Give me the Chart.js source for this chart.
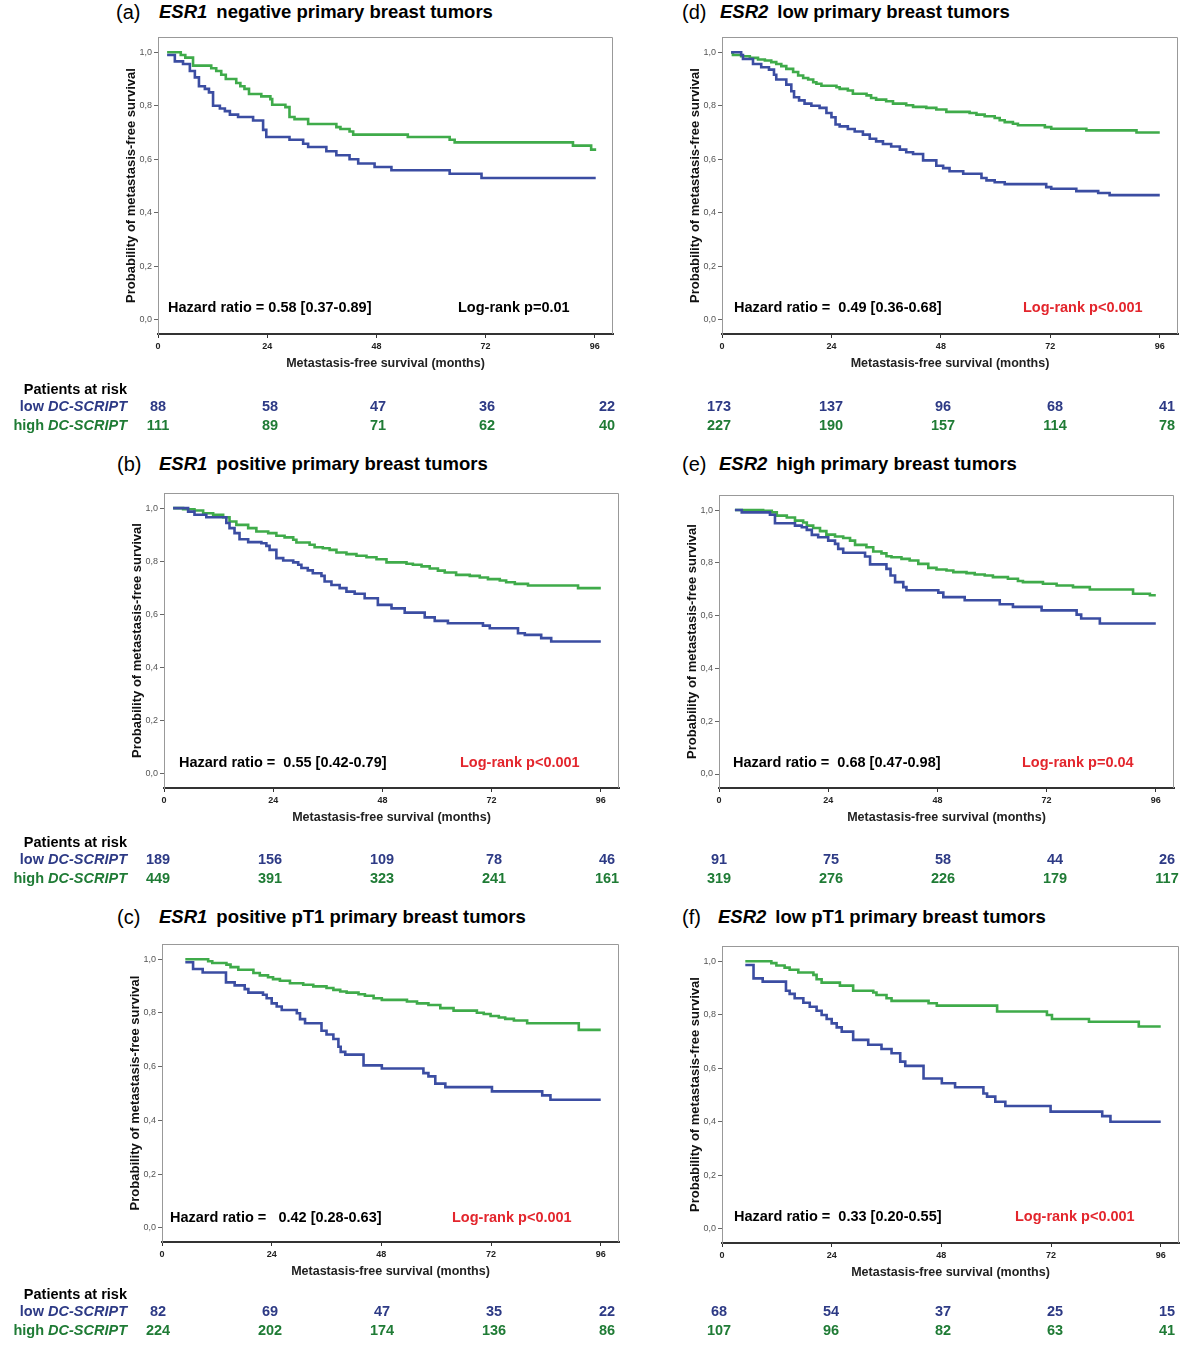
<!DOCTYPE html>
<html>
<head>
<script src="https://cdn.jsdelivr.net/npm/chart.js"></script>
<style>
  body { margin: 0; background: #fff; font-family: "Liberation Sans", Arial, sans-serif; }
  #page { position: relative; width: 1200px; height: 1353px; background: #fff; overflow: hidden; }
  #page canvas { position: absolute; }
  .t { position: absolute; white-space: pre; line-height: 20px; font-weight: bold; font-size: 14.5px; }
  .lab { font-size: 20px; font-weight: normal; line-height: 24px; }
  .ttl { font-size: 18.5px; line-height: 24px; }
  .low { color: #2d3a85; }
  .high { color: #1f7b35; }
  .red { color: #e3262d; }
  .num { text-align: center; width: 60px; }
</style>
</head>
<body>
<div id="page"></div>
<script>
// x axis ticks (months) and y ticks
const months = [0, 24, 48, 72, 96];
const yTicks = [0, 0.2, 0.4, 0.6, 0.8, 1.0];

// (a) ESR1 negative
const aLowT = [2, 3.7, 5.5, 7, 8.1, 9, 10.3, 11.2, 12.1, 13.6, 14.7, 15.8, 17.6, 20.9, 23.1, 23.8, 28.9, 31.9, 33, 37, 39.2, 42.1, 44, 47.6, 51.3, 64.1, 71.1, 96.2];
const aLowS = [0.99, 0.966, 0.956, 0.93, 0.906, 0.873, 0.863, 0.85, 0.80, 0.79, 0.78, 0.767, 0.758, 0.745, 0.71, 0.683, 0.673, 0.658, 0.646, 0.63, 0.615, 0.60, 0.584, 0.571, 0.559, 0.546, 0.53, 0.53];
const aHighT = [2, 5, 6, 7.7, 11.7, 12.8, 13.9, 14.9, 17.2, 18.1, 19, 20, 22.7, 24.7, 25.1, 28, 28.9, 30, 33, 39.2, 40.1, 42.1, 42.9, 54.9, 64.1, 65.2, 91.2, 95.2, 96.3];
const aHighS = [1.0, 0.99, 0.98, 0.95, 0.94, 0.93, 0.916, 0.90, 0.885, 0.873, 0.863, 0.844, 0.835, 0.825, 0.804, 0.795, 0.758, 0.75, 0.732, 0.72, 0.713, 0.704, 0.692, 0.683, 0.673, 0.663, 0.651, 0.636, 0.636];
const aRiskLow = [88, 58, 47, 36, 22];
const aRiskHigh = [111, 89, 71, 62, 40];

// (d) ESR2 low
const dLowT = [2, 4.2, 4.6, 6.8, 8.6, 10.3, 11.4, 11.9, 14.1, 15.2, 15.8, 16.9, 18.1, 19.6, 21.4, 22.9, 24, 24.9, 25.8, 27.6, 29.1, 30.9, 32.4, 33.8, 35.3, 37.1, 39, 40.4, 41.9, 44.1, 47, 48.5, 49.9, 52.9, 56.9, 58, 59.8, 62, 71.1, 72.2, 77.7, 82.5, 85, 96];
const dLowS = [1.0, 0.99, 0.975, 0.956, 0.944, 0.935, 0.916, 0.898, 0.879, 0.854, 0.832, 0.82, 0.808, 0.80, 0.792, 0.773, 0.757, 0.73, 0.723, 0.713, 0.704, 0.692, 0.677, 0.667, 0.657, 0.648, 0.636, 0.626, 0.62, 0.596, 0.576, 0.567, 0.555, 0.546, 0.53, 0.521, 0.514, 0.507, 0.496, 0.49, 0.481, 0.474, 0.466, 0.466];
const dHighT = [2, 2.4, 4.2, 6.1, 7.9, 9.4, 10.8, 11.9, 13, 14.1, 15.6, 16.7, 17.8, 18.9, 20, 20.7, 21.8, 25.1, 25.8, 27.6, 28.7, 31.7, 32.7, 33.8, 36, 37.5, 40.4, 41.9, 44.8, 47, 49.2, 54.3, 55.8, 57.6, 59.8, 60.9, 62, 63.8, 64.9, 70.8, 72.2, 79.9, 90.9, 96];
const dHighS = [0.998, 0.99, 0.985, 0.979, 0.973, 0.969, 0.963, 0.956, 0.948, 0.938, 0.926, 0.913, 0.904, 0.898, 0.888, 0.882, 0.875, 0.869, 0.863, 0.857, 0.845, 0.839, 0.829, 0.823, 0.817, 0.808, 0.802, 0.796, 0.792, 0.786, 0.777, 0.773, 0.767, 0.761, 0.754, 0.746, 0.739, 0.733, 0.727, 0.72, 0.714, 0.708, 0.70, 0.70];
const dRiskLow = [173, 137, 96, 68, 41];
const dRiskHigh = [227, 190, 157, 114, 78];

// (b) ESR1 positive
const bLowT = [2, 5.3, 6.7, 9.3, 13.7, 14.4, 15.5, 16.6, 18.5, 21.4, 22.5, 23.2, 24.7, 26.2, 28.4, 29.5, 30.2, 31.6, 32.7, 34.6, 35.3, 36.8, 38.6, 40.1, 41.9, 44.1, 47, 50, 52.9, 57.3, 59.5, 62.4, 70.1, 71.6, 77.8, 79.3, 82.9, 85.1, 96];
const bLowS = [1.0, 0.987, 0.975, 0.966, 0.944, 0.925, 0.906, 0.883, 0.872, 0.868, 0.858, 0.843, 0.812, 0.803, 0.796, 0.787, 0.775, 0.766, 0.755, 0.745, 0.724, 0.711, 0.699, 0.686, 0.678, 0.661, 0.636, 0.623, 0.607, 0.589, 0.576, 0.567, 0.558, 0.548, 0.529, 0.523, 0.511, 0.498, 0.498];
const bHighT = [2, 4.2, 6.7, 8.6, 10.8, 13, 14.4, 15.9, 18.5, 20.3, 22.9, 24.7, 26.5, 28.4, 29.1, 32, 33.1, 34.9, 36.4, 37.9, 40.1, 42.3, 44.5, 46.7, 48.9, 53.3, 54.7, 56.6, 58.4, 60.2, 61.7, 64.2, 67.2, 69.4, 71.2, 73.8, 75.2, 77.1, 80, 91, 96];
const bHighS = [1.0, 0.996, 0.991, 0.981, 0.975, 0.966, 0.95, 0.937, 0.925, 0.912, 0.906, 0.896, 0.89, 0.881, 0.871, 0.862, 0.853, 0.849, 0.843, 0.833, 0.827, 0.821, 0.815, 0.808, 0.796, 0.791, 0.787, 0.781, 0.773, 0.765, 0.758, 0.749, 0.745, 0.739, 0.733, 0.728, 0.721, 0.715, 0.709, 0.699, 0.699];
const bRiskLow = [189, 156, 109, 78, 46];
const bRiskHigh = [449, 391, 323, 241, 161];

// (e) ESR2 high
const eLowT = [3.5, 5, 11.2, 12.3, 16.7, 18.2, 19.3, 20.4, 21.8, 24, 25.5, 26.2, 27.3, 32.1, 33.2, 36.8, 37.7, 38.7, 40.5, 41.2, 48.2, 49.3, 54, 61.7, 64.6, 70.9, 78.6, 79.6, 83.7, 96];
const eLowS = [1.0, 0.991, 0.982, 0.95, 0.941, 0.935, 0.925, 0.906, 0.897, 0.884, 0.872, 0.853, 0.838, 0.824, 0.794, 0.777, 0.752, 0.727, 0.708, 0.696, 0.687, 0.67, 0.658, 0.643, 0.633, 0.62, 0.604, 0.589, 0.57, 0.57];
const eHighT = [3.5, 9.7, 11.6, 12.7, 14.9, 16.7, 18.5, 19.3, 20.7, 22.2, 23.6, 25.5, 27.3, 28.8, 29.9, 32.4, 33.9, 35.7, 36.8, 37.9, 40.1, 41.9, 43.8, 46, 47.8, 50, 51.5, 54.4, 56.2, 58.4, 60.2, 63.5, 65.7, 66.8, 71.2, 74.2, 77.8, 81.5, 91, 94.7, 96];
const eHighS = [1.0, 0.997, 0.991, 0.979, 0.972, 0.96, 0.953, 0.941, 0.932, 0.92, 0.907, 0.9, 0.894, 0.884, 0.868, 0.859, 0.843, 0.836, 0.825, 0.821, 0.815, 0.809, 0.796, 0.781, 0.775, 0.771, 0.765, 0.761, 0.756, 0.752, 0.746, 0.74, 0.731, 0.727, 0.721, 0.714, 0.708, 0.699, 0.683, 0.677, 0.677];
const eRiskLow = [91, 75, 58, 44, 26];
const eRiskHigh = [319, 276, 226, 179, 117];

// (c) ESR1 positive pT1
const cLowT = [5.1, 6.8, 8.9, 14, 15.9, 18.1, 18.9, 22.1, 22.9, 24, 25.1, 26.2, 29.5, 30.2, 31.3, 34.9, 36, 37.5, 38.6, 39.1, 40.1, 44.1, 48.1, 57.2, 58.3, 59.8, 62, 72.2, 83.2, 85, 96];
const cLowS = [0.989, 0.964, 0.951, 0.914, 0.903, 0.889, 0.876, 0.868, 0.855, 0.836, 0.824, 0.811, 0.799, 0.777, 0.762, 0.734, 0.72, 0.703, 0.674, 0.655, 0.645, 0.605, 0.593, 0.576, 0.564, 0.537, 0.524, 0.508, 0.493, 0.477, 0.477];
const cHighT = [5.1, 10.1, 11, 14.1, 15, 16.7, 20, 21.4, 23.2, 24.3, 25.8, 28, 30.9, 33.1, 36, 37.5, 39, 40.4, 43, 44.4, 46.3, 48.1, 53.6, 55.8, 58.3, 60.9, 63.8, 68.9, 70.4, 71.9, 73.7, 75.1, 77, 79.9, 91.2, 96];
const cHighS = [1.0, 0.993, 0.986, 0.98, 0.971, 0.961, 0.949, 0.94, 0.933, 0.926, 0.92, 0.911, 0.905, 0.899, 0.893, 0.886, 0.88, 0.876, 0.87, 0.864, 0.855, 0.849, 0.843, 0.836, 0.83, 0.818, 0.809, 0.801, 0.796, 0.789, 0.783, 0.778, 0.772, 0.762, 0.737, 0.737];
const cRiskLow = [82, 69, 47, 35, 22];
const cRiskHigh = [224, 202, 174, 136, 86];

// (f) ESR2 low pT1
const fLowT = [5.1, 6.9, 8.9, 14, 14.8, 15.9, 17.8, 19.2, 20.7, 21.8, 22.9, 24, 25.1, 26.2, 28.7, 32, 34.9, 37.1, 39, 40.1, 44.1, 48.1, 51, 57.2, 58, 59.8, 62, 71.9, 83.2, 85, 96];
const fLowS = [0.986, 0.936, 0.924, 0.89, 0.878, 0.862, 0.845, 0.83, 0.815, 0.799, 0.784, 0.768, 0.753, 0.737, 0.706, 0.688, 0.672, 0.656, 0.625, 0.609, 0.562, 0.544, 0.529, 0.506, 0.494, 0.475, 0.459, 0.438, 0.421, 0.40, 0.40];
const fHighT = [5.1, 10.8, 11.9, 13.7, 14.8, 16.7, 20, 20.7, 21.8, 25.8, 28.7, 33.1, 33.8, 36, 37.1, 45.2, 47, 60.2, 71.1, 72.2, 80.3, 91.2, 96];
const fHighS = [1.0, 0.993, 0.984, 0.976, 0.968, 0.958, 0.949, 0.933, 0.92, 0.909, 0.89, 0.883, 0.874, 0.862, 0.852, 0.843, 0.834, 0.812, 0.799, 0.784, 0.774, 0.756, 0.756];
const fRiskLow = [68, 54, 37, 25, 15];
const fRiskHigh = [107, 96, 82, 63, 41];

const BLUE = '#3b4da2', GREEN = '#3fab4a';
const FONT = '"Liberation Sans", Arial, sans-serif';
const YW = 42, XH = 46, PT = 12, PR = 8;

// layout of each panel (plot box in page pixels)
const panels = [
  { key: 'a', gene: 'ESR1', rest: 'negative primary breast tumors', box: [158, 613, 37, 334], labX: 116, geneX: 159, ty: 12,
    hr: 'Hazard ratio = 0.58 [0.37-0.89]', hrX: 168, lr: 'Log-rank p=0.01', lrX: 458, lrRed: false, ay: 307,
    low: [aLowT, aLowS], high: [aHighT, aHighS], risk: [aRiskLow, aRiskHigh], ry: 389, cols: [158, 270, 378, 487, 607] },
  { key: 'd', gene: 'ESR2', rest: 'low primary breast tumors', box: [722, 1178, 37, 334], labX: 682, geneX: 720, ty: 12,
    hr: 'Hazard ratio =  0.49 [0.36-0.68]', hrX: 734, lr: 'Log-rank p<0.001', lrX: 1023, lrRed: true, ay: 307,
    low: [dLowT, dLowS], high: [dHighT, dHighS], risk: [dRiskLow, dRiskHigh], ry: 389, cols: [719, 831, 943, 1055, 1167] },
  { key: 'b', gene: 'ESR1', rest: 'positive primary breast tumors', box: [164, 619, 493, 788], labX: 117, geneX: 159, ty: 464,
    hr: 'Hazard ratio =  0.55 [0.42-0.79]', hrX: 179, lr: 'Log-rank p<0.001', lrX: 460, lrRed: true, ay: 762,
    low: [bLowT, bLowS], high: [bHighT, bHighS], risk: [bRiskLow, bRiskHigh], ry: 842, cols: [158, 270, 382, 494, 607] },
  { key: 'e', gene: 'ESR2', rest: 'high primary breast tumors', box: [719, 1174, 495, 788], labX: 682, geneX: 719, ty: 464,
    hr: 'Hazard ratio =  0.68 [0.47-0.98]', hrX: 733, lr: 'Log-rank p=0.04', lrX: 1022, lrRed: true, ay: 762,
    low: [eLowT, eLowS], high: [eHighT, eHighS], risk: [eRiskLow, eRiskHigh], ry: 842, cols: [719, 831, 943, 1055, 1167] },
  { key: 'c', gene: 'ESR1', rest: 'positive pT1 primary breast tumors', box: [162, 619, 944, 1242], labX: 117, geneX: 159, ty: 917,
    hr: 'Hazard ratio =   0.42 [0.28-0.63]', hrX: 170, lr: 'Log-rank p<0.001', lrX: 452, lrRed: true, ay: 1217,
    low: [cLowT, cLowS], high: [cHighT, cHighS], risk: [cRiskLow, cRiskHigh], ry: 1294, cols: [158, 270, 382, 494, 607] },
  { key: 'f', gene: 'ESR2', rest: 'low pT1 primary breast tumors', box: [722, 1179, 946, 1243], labX: 682, geneX: 718, ty: 917,
    hr: 'Hazard ratio =  0.33 [0.20-0.55]', hrX: 734, lr: 'Log-rank p<0.001', lrX: 1015, lrRed: true, ay: 1216,
    low: [fLowT, fLowS], high: [fHighT, fHighS], risk: [fRiskLow, fRiskHigh], ry: 1294, cols: [719, 831, 943, 1055, 1167] }
];

const page = document.getElementById('page');

function txt(html, x, cy, cls, h) {
  const d = document.createElement('div');
  d.className = 't ' + (cls || '');
  d.innerHTML = html;
  const lh = h || 20;
  d.style.left = x + 'px';
  d.style.top = (cy - lh / 2) + 'px';
  page.appendChild(d);
  return d;
}

// draws the grey top and right edges of the plot frame
const framePlugin = {
  id: 'frame',
  afterDraw(chart) {
    const { ctx, chartArea: a } = chart;
    ctx.save();
    ctx.strokeStyle = '#999';
    ctx.lineWidth = 1;
    ctx.beginPath();
    ctx.moveTo(a.left, a.top + 0.5);
    ctx.lineTo(a.right - 0.5, a.top + 0.5);
    ctx.lineTo(a.right - 0.5, a.bottom);
    ctx.stroke();
    ctx.restore();
  }
};

panels.forEach(p => {
  const [L, R, T, B] = p.box;
  const cv = document.createElement('canvas');
  const w = (R - L) + YW + PR, h = (B - T) + PT + XH;
  cv.width = w; cv.height = h;
  cv.style.left = (L - YW) + 'px';
  cv.style.top = (T - PT) + 'px';
  cv.style.width = w + 'px';
  cv.style.height = h + 'px';
  page.appendChild(cv);

  const pts = (ts, ss) => ts.map((t, i) => ({ x: t, y: ss[i] }));

  new Chart(cv, {
    type: 'line',
    data: {
      datasets: [
        { label: 'low DC-SCRIPT', data: pts(p.low[0], p.low[1]), borderColor: BLUE, borderWidth: 2.6, stepped: true, pointRadius: 0, fill: false },
        { label: 'high DC-SCRIPT', data: pts(p.high[0], p.high[1]), borderColor: GREEN, borderWidth: 2.6, stepped: true, pointRadius: 0, fill: false }
      ]
    },
    options: {
      responsive: false,
      animation: false,
      devicePixelRatio: 1,
      layout: { padding: { left: 0, top: PT, right: PR, bottom: 0 } },
      plugins: { legend: { display: false }, tooltip: { enabled: false } },
      scales: {
        x: {
          type: 'linear', min: 0, max: 100,
          afterFit: s => { s.height = XH; },
          afterBuildTicks: s => { s.ticks = months.map(v => ({ value: v })); },
          ticks: { font: { family: FONT, size: 9, weight: 'bold' }, color: '#222', padding: 3, maxRotation: 0 },
          grid: { drawOnChartArea: false, tickLength: 4, color: '#333' },
          border: { color: '#333', width: 2 },
          title: { display: true, text: 'Metastasis-free survival (months)', color: '#222',
                   font: { family: FONT, size: 12.5, weight: 'bold' }, padding: { top: 0, bottom: 9 } }
        },
        y: {
          type: 'linear', min: -0.053, max: 1.057,
          afterFit: s => { s.width = YW; },
          afterBuildTicks: s => { s.ticks = yTicks.map(v => ({ value: v })); },
          ticks: { font: { family: FONT, size: 9 }, color: '#555', padding: 2,
                   callback: v => v.toFixed(1).replace('.', ',') },
          grid: { drawOnChartArea: false, tickLength: 4, color: '#666' },
          border: { color: '#999', width: 1 },
          title: { display: true, text: 'Probability of metastasis-free survival', color: '#111',
                   font: { family: FONT, size: 13, weight: 'bold' }, padding: { top: 8, bottom: 0 } }
        }
      }
    },
    plugins: [framePlugin]
  });

  // panel title
  txt('(' + p.key + ')', p.labX, p.ty, 'lab', 24);
  txt('<i>' + p.gene + '</i><span style="margin-left:9px">' + p.rest + '</span>', p.geneX, p.ty, 'ttl', 24);

  // statistics inside the plot
  txt(p.hr, p.hrX, p.ay, '');
  txt(p.lr, p.lrX, p.ay, p.lrRed ? 'red' : '');

  // patients at risk
  const left = p.cols[0] < 400;
  if (left) {
    const hd = txt('Patients at risk', 0, p.ry, '');
    hd.style.width = '127px'; hd.style.textAlign = 'right';
    const lo = txt('low <i>DC-SCRIPT</i>', 0, p.ry + 17, 'low');
    lo.style.width = '127px'; lo.style.textAlign = 'right';
    const hi = txt('high <i>DC-SCRIPT</i>', 0, p.ry + 36, 'high');
    hi.style.width = '127px'; hi.style.textAlign = 'right';
  }
  p.cols.forEach((cx, i) => {
    txt(String(p.risk[0][i]), cx - 30, p.ry + 17, 'low num');
    txt(String(p.risk[1][i]), cx - 30, p.ry + 36, 'high num');
  });
});
</script>
</body>
</html>
